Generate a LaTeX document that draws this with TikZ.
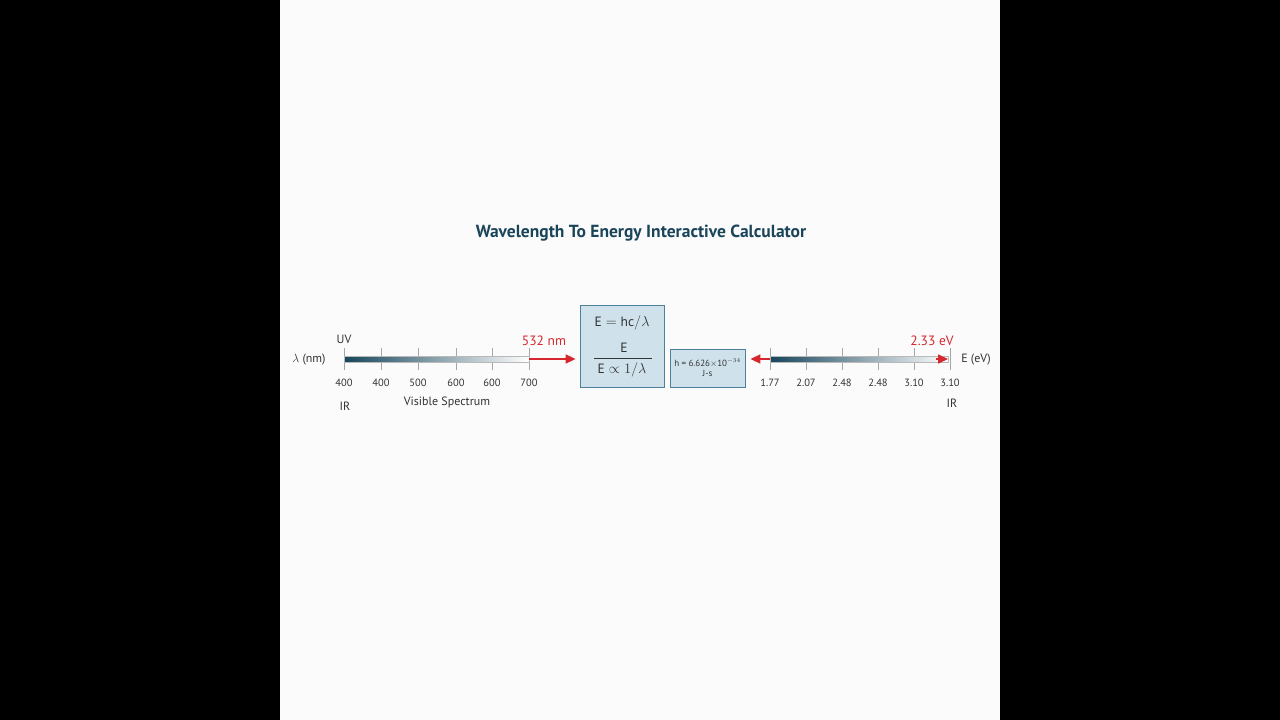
\documentclass[tikz,border=0pt]{standalone}
\usepackage{amsmath,amssymb}
\usepackage{fontspec}
\setmainfont{PT Sans}
\usetikzlibrary{positioning,arrows.meta}

\definecolor{titleblue}{HTML}{1A4459}
\definecolor{bardark}{HTML}{17465C}
\definecolor{barmid}{HTML}{3F7189}
\definecolor{boxfill}{HTML}{CFE2EC}
\definecolor{boxline}{HTML}{4D8199}
\definecolor{markred}{HTML}{D6262E}
\definecolor{textgray}{HTML}{333333}

\tikzset{
  lbl/.style={font=\fontsize{12}{14}\selectfont, text=textgray, inner sep=0pt},
  ticklbl/.style={font=\fontsize{10.5}{12}\selectfont, text=textgray, inner sep=0pt},
  redlbl/.style={font=\fontsize{13.5}{15}\selectfont, text=markred, inner sep=0pt},
  specbar/.style={draw=gray!55, line width=0.6pt, left color=bardark, middle color=barmid, right color=white},
  tickmark/.style={draw=gray!70, line width=0.6pt},
  redarrow/.style={draw=markred, line width=1.6pt, -{Triangle[length=10pt,width=9pt]}},
  formbox/.style={draw=boxline, fill=boxfill, line width=0.8pt, inner sep=0pt},
  mathtxt/.style={font=\fontsize{13.5}{16}\selectfont, text=textgray, inner sep=0pt},
}

\begin{document}
\begin{tikzpicture}[x=1pt, y=-1pt]
  % frame
  \useasboundingbox (0,0) rectangle (1280,720);
  \fill[black] (0,0) rectangle (1280,720);
  \fill[white!97!gray] (280,0) rectangle (1000,720);

  \node (title) [font=\bfseries\fontsize{17.5}{20}\selectfont, text=titleblue] at (641,233)
    {Wavelength To Energy Interactive Calculator};

  % boxes
  \node (formula) [formbox, minimum width=84, minimum height=82] at (622,346) {};
  \node (eqa) [mathtxt] at (622,323) {$\mathrm{E} = \mathrm{hc}/\lambda$};
  \node (eqb) [mathtxt] at (624,348) {$\mathrm{E}$};
  \node (eqc) [mathtxt] at (622,370) {$\mathrm{E} \propto 1/\lambda$};
  \draw[textgray, line width=0.6pt] (594,358) -- (652,358);

  \node (hbox) [formbox, minimum width=75, minimum height=38, align=center,
    font=\fontsize{9}{10}\selectfont, text=textgray] at (707.5,368)
    {h = 6.626$\times$10$^{-34}$\\J-s};

  % wavelength axis
  \coordinate (lstart) at (344,359);
  \coordinate (lend) at (529,359);
  \foreach \x/\v [count=\i] in {344/400,381/400,418/500,456/600,492/600,529/700} {
    \draw[tickmark] (\x,348) -- (\x,370);
    \node (lt\i) [ticklbl] at (\x,383) {\v};
  }
  \shade[specbar] ([yshift=3]lstart) rectangle ([yshift=-3]lend);
  \node (uv) [lbl] at (344,339) {UV};
  \node (lamlbl) [lbl] at (309,360) {$\lambda$ (nm)};
  \node (irl) [lbl] at (345,406) {IR};
  \node (visible) [lbl] at (447,402) {Visible Spectrum};
  \node (nmval) [redlbl] at (544,341) {532 nm};
  \draw[redarrow, shorten >=4] (lend) -- (lend -| formula.west);

  % energy axis
  \coordinate (rstart) at (770,359);
  \coordinate (rend) at (948,359);
  \foreach \x/\v [count=\i] in {770/1.77,806/2.07,842/2.48,878/2.48,914/3.10,950/3.10} {
    \draw[tickmark] (\x,348) -- (\x,370);
    \node (rt\i) [ticklbl] at (\x,383) {\v};
  }
  \shade[specbar] ([yshift=3]rstart) rectangle ([yshift=-3]rend);
  \node (evval) [redlbl] at (932,341) {2.33 eV};
  \node (elbl) [lbl] at (976,360) {E (eV)};
  \node (irr) [lbl] at (952,403) {IR};
  \draw[redarrow, shorten >=5] (rstart) -- (rstart -| hbox.east);
  \draw[redarrow] ([xshift=-12]rend) -- (rend);
\end{tikzpicture}
\end{document}
